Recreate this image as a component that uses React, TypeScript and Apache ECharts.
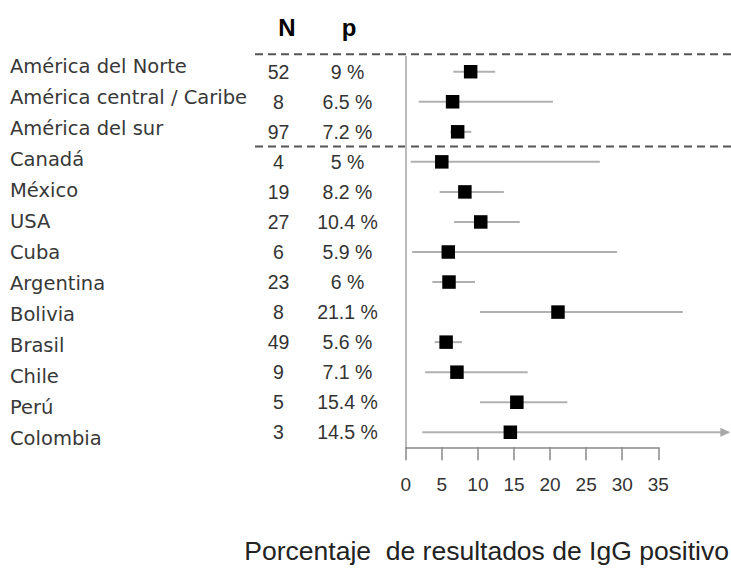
import React, { useEffect, useRef } from "react";
import * as echarts from "echarts";

const categories = [
  "América del Norte",
  "América central / Caribe",
  "América del sur",
  "Canadá",
  "México",
  "USA",
  "Cuba",
  "Argentina",
  "Bolivia",
  "Brasil",
  "Chile",
  "Perú",
  "Colombia",
];
const nValues = [52, 8, 97, 4, 19, 27, 6, 23, 8, 49, 9, 5, 3];
const pLabels = ["9 %", "6.5 %", "7.2 %", "5 %", "8.2 %", "10.4 %", "5.9 %", "6 %", "21.1 %", "5.6 %", "7.1 %", "15.4 %", "14.5 %"];
const estimates = [9, 6.5, 7.2, 5, 8.2, 10.4, 5.9, 6, 21.1, 5.6, 7.1, 15.4, 14.5];
const lower = [6.6, 1.8, 6.2, 0.7, 4.7, 6.7, 0.9, 3.7, 10.3, 4.0, 2.7, 10.3, 2.3];
const upper = [12.4, 20.4, 9.1, 26.9, 13.6, 15.8, 29.3, 9.6, 38.4, 7.8, 16.9, 22.4, 44.7];
const arrows = [false, false, false, false, false, false, false, false, false, false, false, false, true];
const xTicks = [0, 5, 10, 15, 20, 25, 30, 35];
const headers = ["N", "p"];
const axisTitle = "Porcentaje  de resultados de IgG positivo";

const W = 731;
const H = 574;
const GRID_LEFT = 405.7;
const AXIS_WIDTH = 252.6;
const GRID_TOP = 56.7;
const GRID_HEIGHT = 390.6;
const NAME_TOP = 50.5;
const NAME_HEIGHT = 403;

const numFont = "Liberation Sans, Arial, sans-serif";

export default function App() {
  const ref = useRef<HTMLDivElement>(null);

  useEffect(() => {
    if (!ref.current) return;
    const chart = echarts.init(ref.current, null, { renderer: "svg" });
    const axisMax = xTicks[xTicks.length - 1];
    const pxPerUnit = AXIS_WIDTH / axisMax;
    const dataMax = (W - GRID_LEFT) / pxPerUnit;

    const data = categories.map((_, i) => [lower[i], upper[i], estimates[i], i, arrows[i] ? 1 : 0]);

    const option: any = {
      animation: false,
      backgroundColor: "#fff",
      grid: [
        { left: GRID_LEFT, top: GRID_TOP, width: AXIS_WIDTH, height: GRID_HEIGHT },
        { left: GRID_LEFT, top: GRID_TOP, width: W - GRID_LEFT, height: GRID_HEIGHT },
        { left: GRID_LEFT, top: NAME_TOP, width: W - GRID_LEFT, height: NAME_HEIGHT },
      ],
      xAxis: [
        {
          type: "value",
          gridIndex: 0,
          min: 0,
          max: axisMax,
          interval: 5,
          splitLine: { show: false },
          axisLine: { show: true, lineStyle: { color: "#888", width: 1.5 } },
          axisTick: { show: true, length: 13, lineStyle: { color: "#888", width: 1.5 } },
          axisLabel: {
            margin: 28,
            fontSize: 19,
            color: "#333",
            fontFamily: numFont,
          },
        },
        {
          type: "value",
          gridIndex: 1,
          min: 0,
          max: dataMax,
          show: false,
          splitLine: { show: false },
        },
        {
          type: "value",
          gridIndex: 2,
          min: 0,
          max: dataMax,
          show: false,
          splitLine: { show: false },
        },
      ],
      yAxis: [
        {
          type: "category",
          gridIndex: 0,
          data: categories,
          inverse: true,
          show: false,
        },
        {
          type: "category",
          gridIndex: 1,
          data: categories,
          inverse: true,
          axisLine: { show: true, lineStyle: { color: "#bbb", width: 2 } },
          axisTick: { show: false },
          splitLine: { show: false },
          axisLabel: {
            align: "left",
            margin: GRID_LEFT - 254.5,
            formatter: (_v: string, idx: number) => `{n|${nValues[idx]}}{p|${pLabels[idx]}}`,
            rich: {
              n: {
                width: 48,
                align: "center",
                fontFamily: numFont,
                fontSize: 19.5,
                color: "#333",
              },
              p: {
                width: 90,
                align: "center",
                fontFamily: numFont,
                fontSize: 19.5,
                color: "#333",
              },
            },
          },
        },
        {
          type: "category",
          gridIndex: 2,
          data: categories,
          inverse: true,
          axisLine: { show: false },
          axisTick: { show: false },
          splitLine: { show: false },
          axisLabel: {
            align: "left",
            margin: GRID_LEFT - 10,
            fontFamily: "DejaVu Sans, sans-serif",
            fontSize: 19.5,
            color: "#383838",
          },
        },
      ],
      series: [
        {
          type: "custom",
          xAxisIndex: 1,
          yAxisIndex: 1,
          data,
          renderItem: (params: any, api: any) => {
            const row = api.value(3);
            const p1 = api.coord([api.value(0), row]);
            const p2 = api.coord([api.value(1), row]);
            const pc = api.coord([api.value(2), row]);
            const children: any[] = [
              {
                type: "line",
                shape: { x1: p1[0], y1: p1[1], x2: p2[0], y2: p2[1] },
                style: { stroke: "#b0b0b0", lineWidth: 2 },
              },
            ];
            if (api.value(4)) {
              children.push({
                type: "polygon",
                shape: {
                  points: [
                    [p2[0] + 2, p2[1]],
                    [p2[0] - 8, p2[1] - 4.5],
                    [p2[0] - 8, p2[1] + 4.5],
                  ],
                },
                style: { fill: "#a8a8a8" },
              });
            }
            const s = 13.5;
            children.push({
              type: "rect",
              shape: { x: pc[0] - s / 2, y: pc[1] - s / 2, width: s, height: s },
              style: { fill: "#000" },
            });
            return { type: "group", children };
          },
        },
      ],
      graphic: [
        {
          type: "text",
          x: 287,
          y: 27,
          style: {
            text: headers[0],
            fontSize: 24,
            fontWeight: "bold",
            fontFamily: numFont,
            fill: "#000",
            align: "center",
            verticalAlign: "middle",
          },
        },
        {
          type: "text",
          x: 349,
          y: 27,
          style: {
            text: headers[1],
            fontSize: 24,
            fontWeight: "bold",
            fontFamily: numFont,
            fill: "#000",
            align: "center",
            verticalAlign: "middle",
          },
        },
        {
          type: "line",
          shape: { x1: 255, y1: 54.3, x2: W, y2: 54.3 },
          style: { stroke: "#555", lineWidth: 2, lineDash: [8, 5] },
        },
        {
          type: "line",
          shape: { x1: 255, y1: 146.5, x2: W, y2: 146.5 },
          style: { stroke: "#555", lineWidth: 2, lineDash: [8, 5] },
        },
        {
          type: "text",
          x: 729,
          y: 551,
          style: {
            text: axisTitle,
            fontSize: 26.5,
            fontFamily: numFont,
            fill: "#222",
            align: "right",
            verticalAlign: "middle",
          },
        },
      ],
    };

    chart.setOption(option);
    return () => chart.dispose();
  }, []);

  return (
    <div
      ref={ref}
      style={{ position: "fixed", left: 0, top: 0, width: W, height: H }}
    />
  );
}
